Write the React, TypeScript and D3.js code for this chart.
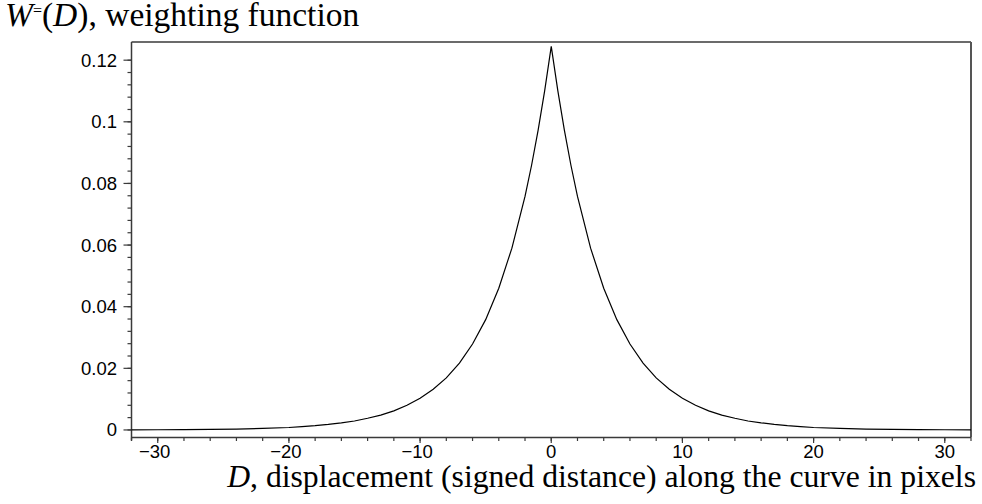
import React, { useEffect, useRef } from 'react';
import * as d3 from 'd3';

// Displacement D (pixels) and the weighting.
const displacement = [
  -32, -30, -28, -26, -24, -22, -20, -19, -18, -17, -16, -15, -14, -13, -12, -11, -10, -9, -8, -7, -6, -5, -4, -3,
  -2, -1.5, -1, -0.5, 0, 0.5, 1, 1.5, 2, 3, 4, 5, 6, 7, 8, 9, 10, 11, 12, 13, 14, 15, 16, 17, 18, 19, 20, 22, 24, 26,
  28, 30, 32,
];
const weight = [
  0.00004, 0.00007, 0.0001, 0.00019, 0.0003, 0.0005, 0.0008, 0.0011, 0.0014, 0.0018, 0.0023, 0.0029, 0.0038,
  0.0048, 0.0062, 0.008, 0.0103, 0.0132, 0.0169, 0.0217, 0.0279, 0.0358, 0.046, 0.059, 0.0758, 0.0859, 0.0973,
  0.1101, 0.1245, 0.1101, 0.0973, 0.0859, 0.0758, 0.059, 0.046, 0.0358, 0.0279, 0.0217, 0.0169, 0.0132, 0.0103,
  0.008, 0.0062, 0.0048, 0.0038, 0.0029, 0.0023, 0.0018, 0.0014, 0.0011, 0.0008, 0.0005, 0.0003, 0.00019, 0.0001,
  0.00007, 0.00004,
];
const xTicks = [-30, -20, -10, 0, 10, 20, 30];
const yTicks = [0, 0.02, 0.04, 0.06, 0.08, 0.1, 0.12];
const yTickLabels = ['0', '0.02', '0.04', '0.06', '0.08', '0.1', '0.12'];

const App = () => {
  const svgRef = useRef<SVGSVGElement>(null);

  useEffect(() => {
    const svg = d3.select(svgRef.current);
    svg.selectAll('*').remove();

    const width = 982;
    const height = 504;
    const left = 131.5;
    const right = 971;
    const top = 42;
    const bottom = 437.5;
    const axisColor = '#3a3a3a';
    const sans = '"Liberation Sans", Arial, sans-serif';
    const serif = '"Liberation Serif", "Times New Roman", serif';

    svg.attr('width', width).attr('height', height);

    const x = d3.scaleLinear().domain([-32, 32]).range([left, right]);
    const y = d3.scaleLinear().domain([-0.00245, 0.1259]).range([bottom, top]);

    // frame: top and right edges
    svg.append('line').attr('x1', left).attr('x2', right).attr('y1', top).attr('y2', top)
      .attr('stroke', axisColor).attr('stroke-width', 1.5);
    svg.append('line').attr('x1', right).attr('x2', right).attr('y1', top).attr('y2', bottom)
      .attr('stroke', '#555').attr('stroke-width', 2);

    // y axis with minor ticks every 0.004
    svg.append('line').attr('x1', left).attr('x2', left).attr('y1', top).attr('y2', bottom + 3)
      .attr('stroke', axisColor).attr('stroke-width', 1.5);
    const yMinor = d3.range(0, 31).map((i) => i * 0.004);
    svg.selectAll('.ymin').data(yMinor).enter().append('line')
      .attr('x1', left - 4).attr('x2', left)
      .attr('y1', (d) => y(d)).attr('y2', (d) => y(d))
      .attr('stroke', axisColor).attr('stroke-width', 1.2);
    svg.selectAll('.ymaj').data(yTicks).enter().append('line')
      .attr('x1', left - 8).attr('x2', left)
      .attr('y1', (d) => y(d)).attr('y2', (d) => y(d))
      .attr('stroke', axisColor).attr('stroke-width', 1.2);
    svg.selectAll('.ylab').data(yTicks).enter().append('text')
      .attr('x', left - 14.5)
      .attr('y', (d) => y(d) + 6.5)
      .attr('text-anchor', 'end')
      .style('font-family', sans)
      .style('font-size', '18.5px')
      .text((d, i) => yTickLabels[i]);

    // x axis with minor ticks every 2
    svg.append('line').attr('x1', left).attr('x2', right).attr('y1', bottom).attr('y2', bottom)
      .attr('stroke', axisColor).attr('stroke-width', 1.5);
    const xMinor = d3.range(-32, 33, 2);
    svg.selectAll('.xmin').data(xMinor).enter().append('line')
      .attr('x1', (d) => x(d)).attr('x2', (d) => x(d))
      .attr('y1', bottom).attr('y2', bottom + 3.5)
      .attr('stroke', axisColor).attr('stroke-width', 1.2);
    svg.selectAll('.xmaj').data(xTicks).enter().append('line')
      .attr('x1', (d) => x(d)).attr('x2', (d) => x(d))
      .attr('y1', bottom).attr('y2', bottom + 5.5)
      .attr('stroke', axisColor).attr('stroke-width', 1.2);
    svg.selectAll('.xlab').data(xTicks).enter().append('text')
      .attr('x', (d) => x(d) - (d < 0 ? 3 : 0))
      .attr('y', 458)
      .attr('text-anchor', 'middle')
      .style('font-family', sans)
      .style('font-size', '18.5px')
      .text((d) => (d < 0 ? '\u2212' + Math.abs(d) : String(d)));

    // the curve
    const pts = displacement.map((d, i) => [d, weight[i]] as [number, number]);
    const line = d3.line<[number, number]>().x((d) => x(d[0])).y((d) => y(d[1]));
    svg.append('path').datum(pts).attr('d', line)
      .attr('fill', 'none').attr('stroke', '#000').attr('stroke-width', 1.2);

    // title
    const title = svg.append('text').attr('x', 5).attr('y', 26)
      .style('font-family', serif).style('font-size', '33.5px');
    title.append('tspan').style('font-style', 'italic').text('W');
    title.append('tspan').attr('dy', -10).style('font-size', '16px').text('=');
    title.append('tspan').attr('dy', 10).text('(');
    title.append('tspan').style('font-style', 'italic').text('D');
    title.append('tspan').text('), weighting function');

    // x label
    const xl = svg.append('text').attr('x', 976).attr('y', 487).attr('text-anchor', 'end')
      .style('font-family', serif).style('font-size', '31.7px');
    xl.append('tspan').style('font-style', 'italic').text('D');
    xl.append('tspan').text(', displacement (signed distance) along the curve in pixels');
  }, []);

  return (
    <div style={{ position: 'absolute', left: 0, top: 0 }}>
      <svg ref={svgRef}></svg>
    </div>
  );
};

export default App;
